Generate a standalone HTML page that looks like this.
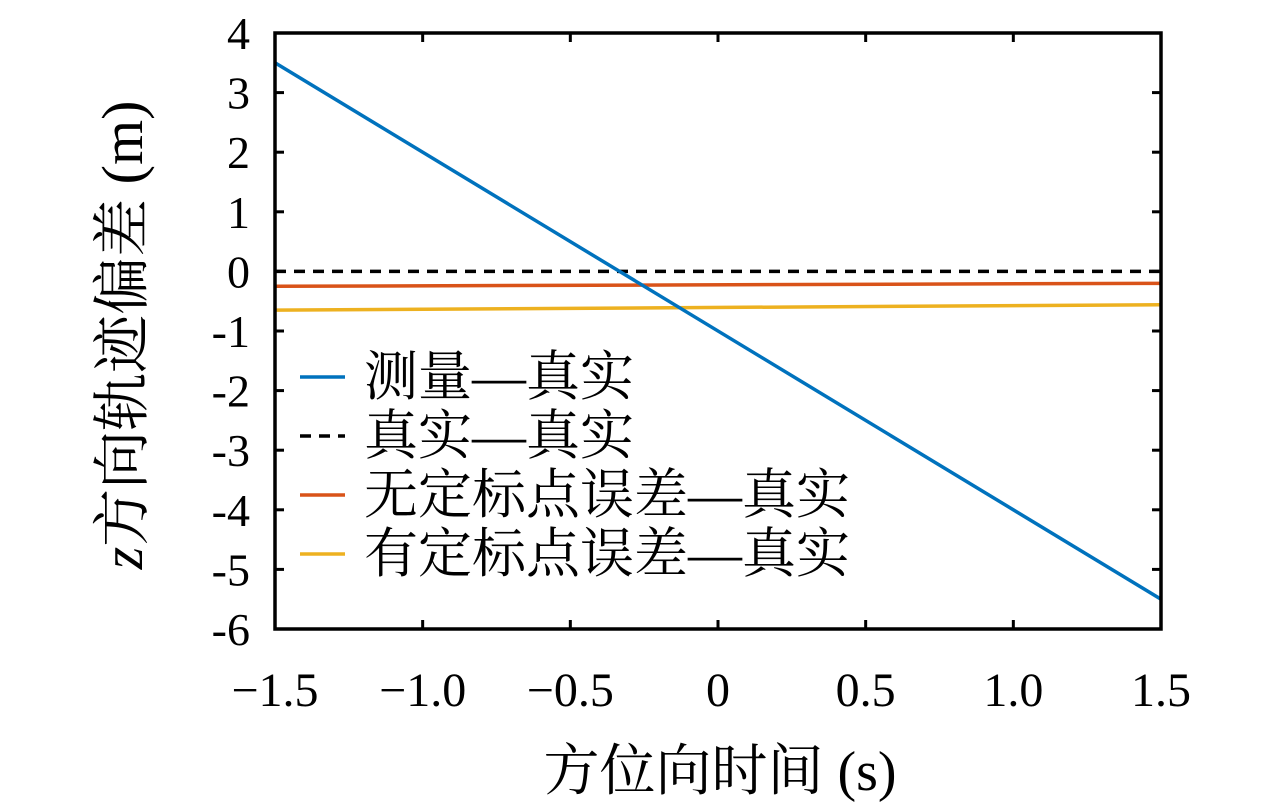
<!DOCTYPE html>
<html><head><meta charset="utf-8"><style>
body{margin:0;background:#fff;}
svg text{font-family:"Liberation Serif","Noto Serif CJK SC",serif;fill:#000;}
</style></head><body>
<svg width="1280" height="807" viewBox="0 0 1280 807" xmlns="http://www.w3.org/2000/svg">
<g id="plot"></g>
</svg>
<script>
const xTicks=[-1.5,-1.0,-0.5,0,0.5,1.0,1.5];
const xTickLabels=["\u22121.5","\u22121.0","\u22120.5","0","0.5","1.0","1.5"];
const yTicks=[4,3,2,1,0,-1,-2,-3,-4,-5,-6];
const yTickLabels=["4","3","2","1","0","-1","-2","-3","-4","-5","-6"];
const seriesX=[-1.5,1.5];
const measured=[3.5,-5.5];
const truth=[0,0];
const noCal=[-0.25,-0.2];
const withCal=[-0.65,-0.56];
const seriesNames=["测量—真实","真实—真实","无定标点误差—真实","有定标点误差—真实"];

const L=275,R=1161,T=33,B=629;
const xs=v=>L+(v+1.5)/3*(R-L);
const ys=v=>T+(4-v)/10*(B-T);
const g=document.getElementById('plot');
const NS="http://www.w3.org/2000/svg";
function mk(tag,attrs){const e=document.createElementNS(NS,tag);for(const k in attrs)e.setAttribute(k,attrs[k]);g.appendChild(e);return e;}

xTicks.forEach((v,i)=>{
  let t=mk('line',{x1:xs(v),x2:xs(v),y1:B,y2:B-9,stroke:'#000','stroke-width':3});
  
  
  let t2=mk('line',{x1:xs(v),x2:xs(v),y1:T,y2:T+9,stroke:'#000','stroke-width':3});
  
  
  let l=mk('text',{x:xs(v),y:706,'text-anchor':'middle','font-size':48});
  l.textContent=xTickLabels[i];
  
  
});
yTicks.forEach((v,i)=>{
  let t=mk('line',{x1:L,x2:L+9,y1:ys(v),y2:ys(v),stroke:'#000','stroke-width':3});
  
  
  let t2=mk('line',{x1:R,x2:R-9,y1:ys(v),y2:ys(v),stroke:'#000','stroke-width':3});
  
  
  let l=mk('text',{x:250,y:ys(v)+16,'text-anchor':'end','font-size':46});
  l.textContent=yTickLabels[i];
  
  
});
function line(arr,color,name,dash){
  let p=mk('polyline',{points:seriesX.map((x,i)=>xs(x)+','+ys(arr[i])).join(' '),fill:'none',stroke:color,'stroke-width':3.5});
  if(dash)p.setAttribute('stroke-dasharray','11,8');
  
  
}
line(truth,'#000','line-truth',true);
line(noCal,'#D95319','line-no-calibration');
line(withCal,'#EDB120','line-with-calibration');
line(measured,'#0072BD','line-measured');
let box=mk('rect',{x:L,y:T,width:R-L,height:B-T,fill:'none',stroke:'#000','stroke-width':3.5});



const colors=['#0072BD','#000','#D95319','#EDB120'];
seriesNames.forEach((n,i)=>{
  const y=377+i*59;
  let s=mk('line',{x1:300,x2:345,y1:y,y2:y,stroke:colors[i],'stroke-width':3.5});
  if(i==1)s.setAttribute('stroke-dasharray','11,8');
  
  
  let t=mk('text',{x:364,y:y+18,'font-size':54});
  t.textContent=n;
  
  
});
let xt=mk('text',{x:720,y:790,'text-anchor':'middle','font-size':56});
xt.textContent='方位向时间 (s)';


let yt=mk('text',{x:0,y:0,'text-anchor':'middle','font-size':58,transform:'translate(142,335) rotate(-90)'});
yt.innerHTML='<tspan font-style="italic">z</tspan>方向轨迹偏差 (m)';


</script>
</body></html>
